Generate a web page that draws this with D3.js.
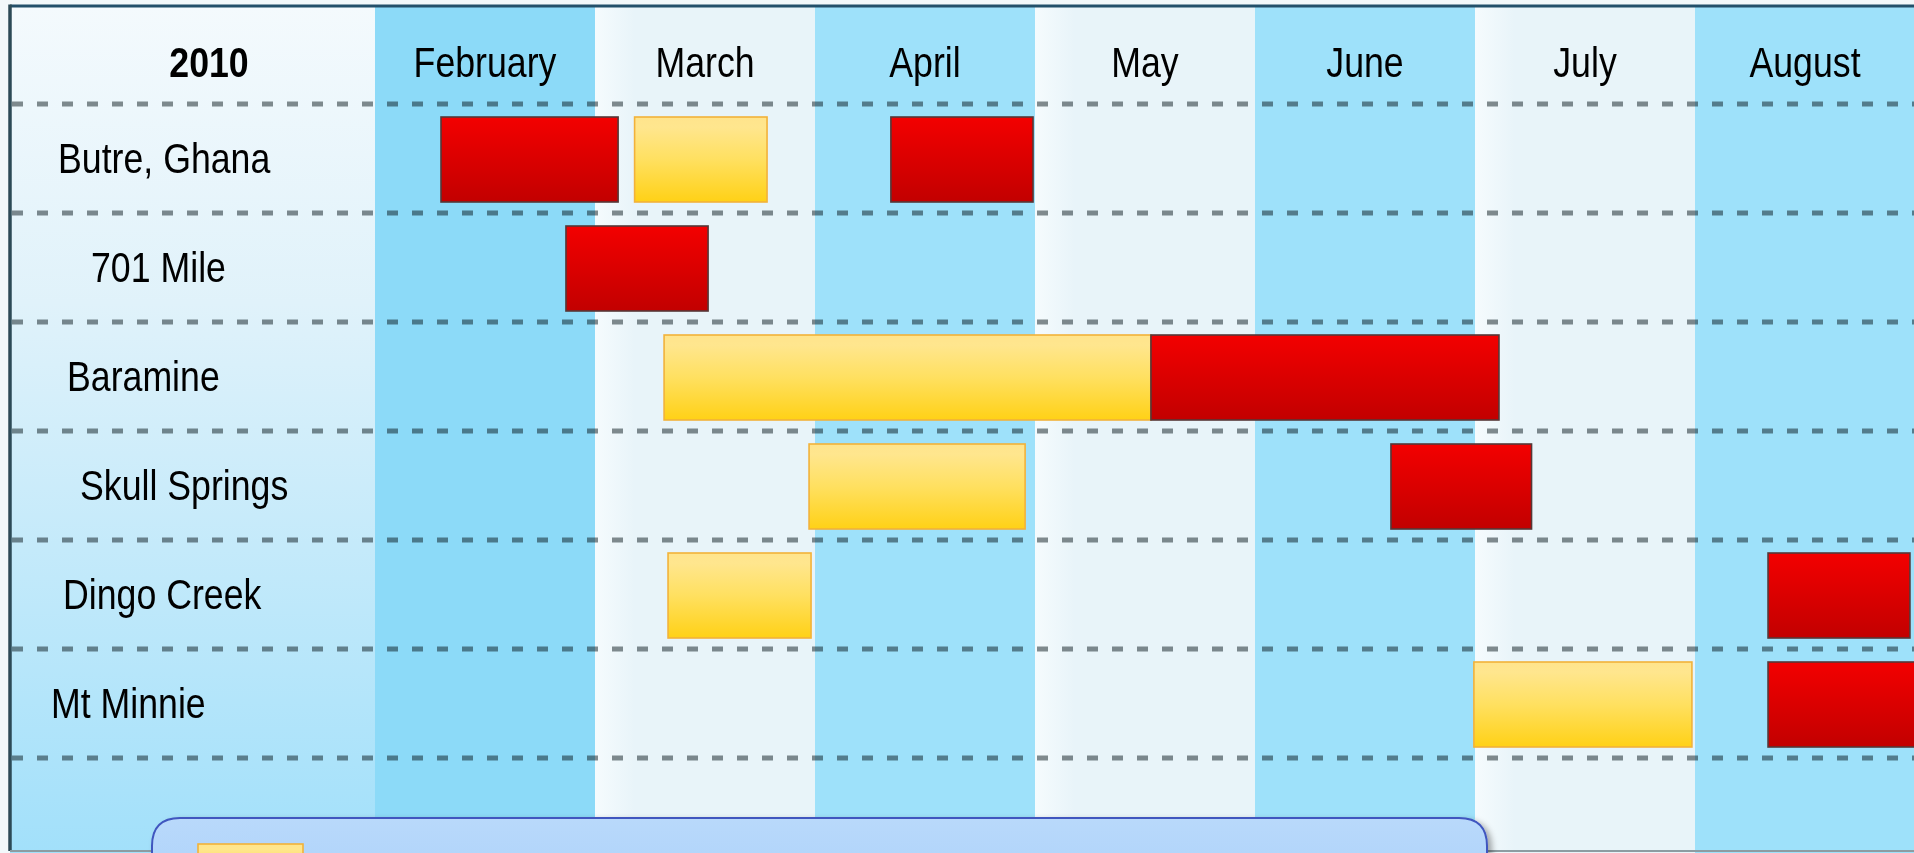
<!DOCTYPE html>
<html>
<head>
<meta charset="utf-8">
<script src="https://cdn.jsdelivr.net/npm/d3@7"></script>
<style>
  body { margin: 0; background: #f2f8fa; overflow: hidden; }
  svg { display: block; }
  .lbl { font-family: "Liberation Sans", Arial, sans-serif; font-size: 42px; fill: #000; }
  .grid { mix-blend-mode: multiply; }
</style>
</head>
<body>
<script>
// chart data
const yearLabel = "2010";
const months = ["February", "March", "April", "May", "June", "July", "August"];
const sites = ["Butre, Ghana", "701 Mile", "Baramine", "Skull Springs", "Dingo Creek", "Mt Minnie"];

// task bars: start / end measured in months from 1 February (0 = Feb 1, 1 = Mar 1 ...)
// taskType: 0 = yellow bar, 1 = red bar
const taskSite  = ["Butre, Ghana", "Butre, Ghana", "Butre, Ghana", "701 Mile", "Baramine", "Baramine",
                   "Skull Springs", "Skull Springs", "Dingo Creek", "Dingo Creek", "Mt Minnie", "Mt Minnie"];
const taskType  = [1, 0, 1, 1, 0, 1, 0, 1, 0, 1, 0, 1];
const taskStart = [0.30, 1.18, 2.345, 0.868, 1.314, 3.527, 1.973, 4.618, 1.332, 6.332, 4.995, 6.332];
const taskEnd   = [1.105, 1.782, 2.991, 1.514, 3.527, 5.109, 2.955, 5.257, 1.982, 6.977, 5.986, 7.05];

// layout
const W = 1914, H = 853;
const frameLeft = 10, frameTop = 6, frameBottom = 851;
const labelStart = [58, 91, 67, 80, 63, 51];   // hand placed row labels

const svg = d3.select("body").append("svg")
  .attr("width", W)
  .attr("height", H);

const x = d3.scaleLinear().domain([0, months.length]).range([375, 1915]);
const y = d3.scaleBand().domain(sites).range([104, 758]);

// gradients
const defs = svg.append("defs");
function grad(id, stops, horizontal) {
  const g = defs.append("linearGradient").attr("id", id)
    .attr("x1", 0).attr("y1", 0).attr("x2", horizontal ? 1 : 0).attr("y2", horizontal ? 0 : 1);
  stops.forEach(s => g.append("stop").attr("offset", s[0]).attr("stop-color", s[1])
    .attr("stop-opacity", s[2] === undefined ? 1 : s[2]));
}
grad("labelGrad", [[0, "#f4fafd"], [0.35, "#e0f2fa"], [1, "#a2e0fa"]]);
grad("redGrad", [[0, "#f30000"], [1, "#c20000"]]);
grad("yellowGrad", [[0, "#ffe48c"], [0.12, "#ffe68e"], [0.5, "#ffe060"], [1, "#ffd116"]]);
grad("legendGrad", [[0, "#b9d9fb"], [1, "#acd2fa"]]);
grad("edgeGrad", [[0, "#f7fcfe", 0.9], [1, "#f7fcfe", 0]], true);

const shadow = defs.append("filter").attr("id", "shadow")
  .attr("x", "-5%").attr("y", "-50%").attr("width", "110%").attr("height", "200%");
shadow.append("feDropShadow").attr("dx", 4).attr("dy", 3).attr("stdDeviation", 3)
  .attr("flood-color", "#000").attr("flood-opacity", 0.35);

// background columns
svg.append("rect")
  .attr("x", frameLeft).attr("y", frameTop)
  .attr("width", x(0) - frameLeft).attr("height", H - frameTop)
  .attr("fill", "url(#labelGrad)");

svg.selectAll(".col")
  .data(months)
  .enter()
  .append("rect")
  .attr("class", "col")
  .attr("x", (d, i) => x(i))
  .attr("y", frameTop)
  .attr("width", (d, i) => x(i + 1) - x(i))
  .attr("height", H - frameTop)
  .attr("fill", (d, i) => i % 2 ? "#e8f4f9" : (i === 0 ? "#8cdaf8" : "#9ee1fa"));

// soft highlight at the left edge of the light columns
svg.selectAll(".colEdge")
  .data(months.filter((d, i) => i % 2))
  .enter()
  .append("rect")
  .attr("x", d => x(months.indexOf(d)))
  .attr("y", frameTop)
  .attr("width", 40)
  .attr("height", H - frameTop)
  .attr("fill", "url(#edgeGrad)");

// dashed row separators
const lineYs = sites.map(s => y(s)).concat([y.range()[1]]);
svg.selectAll(".grid")
  .data(lineYs)
  .enter()
  .append("line")
  .attr("class", "grid")
  .attr("x1", frameLeft + 2).attr("x2", W)
  .attr("y1", d => d).attr("y2", d => d)
  .attr("stroke", "#868d8f")
  .attr("stroke-width", 5)
  .attr("stroke-dasharray", "11,14");

// header texts
svg.append("text")
  .attr("class", "lbl")
  .attr("transform", `translate(209,77) scale(0.85,1)`)
  .attr("text-anchor", "middle")
  .attr("font-weight", "bold")
  .text(yearLabel);

svg.selectAll(".month")
  .data(months)
  .enter()
  .append("text")
  .attr("class", "lbl month")
  .attr("transform", (d, i) => `translate(${(x(i) + x(i + 1)) / 2},77) scale(0.85,1)`)
  .attr("text-anchor", "middle")
  .text(d => d);

// row labels
svg.selectAll(".site")
  .data(sites)
  .enter()
  .append("text")
  .attr("class", "lbl site")
  .attr("transform", (d, i) => `translate(${labelStart[i]},${y(d) + y.bandwidth() / 2 + 14}) scale(0.85,1)`)
  .text(d => d);

// bars (yellow first, red on top)
const tasks = taskSite.map((s, i) => ({ site: s, type: taskType[i], start: taskStart[i], end: taskEnd[i] }))
  .sort((a, b) => a.type - b.type);

svg.selectAll(".bar")
  .data(tasks)
  .enter()
  .append("rect")
  .attr("class", "bar")
  .attr("x", d => x(d.start))
  .attr("y", d => y(d.site) + 13)
  .attr("width", d => x(d.end) - x(d.start))
  .attr("height", 85)
  .attr("fill", d => d.type ? "url(#redGrad)" : "url(#yellowGrad)")
  .attr("stroke", d => d.type ? "#553838" : "#f2b23a")
  .attr("stroke-width", 1.6);

// frame
svg.append("line")
  .attr("x1", frameLeft).attr("x2", W)
  .attr("y1", frameTop).attr("y2", frameTop)
  .attr("stroke", "#23506a").attr("stroke-width", 3);
svg.append("line")
  .attr("x1", frameLeft).attr("x2", frameLeft)
  .attr("y1", frameTop - 1.5).attr("y2", frameBottom)
  .attr("stroke", "#2c4a56").attr("stroke-width", 3.5);
svg.append("line")
  .attr("x1", frameLeft).attr("x2", W)
  .attr("y1", frameBottom).attr("y2", frameBottom)
  .attr("stroke", "#8d9ca2").attr("stroke-width", 2);

// legend box (cut off at the bottom of the picture)
const lx0 = 152, lx1 = 1487, ly0 = 818, r = 28, ly1 = H + 40;
svg.append("path")
  .attr("d", `M${lx0},${ly1} V${ly0 + r} Q${lx0},${ly0} ${lx0 + r},${ly0} H${lx1 - r} Q${lx1},${ly0} ${lx1},${ly0 + r} V${ly1} Z`)
  .attr("fill", "url(#legendGrad)")
  .attr("stroke", "#3f56bf")
  .attr("stroke-width", 2)
  .attr("filter", "url(#shadow)");

svg.append("rect")
  .attr("x", 198).attr("y", 844)
  .attr("width", 105).attr("height", 40)
  .attr("fill", "url(#yellowGrad)")
  .attr("stroke", "#f2b23a")
  .attr("stroke-width", 1.6);
</script>
</body>
</html>
